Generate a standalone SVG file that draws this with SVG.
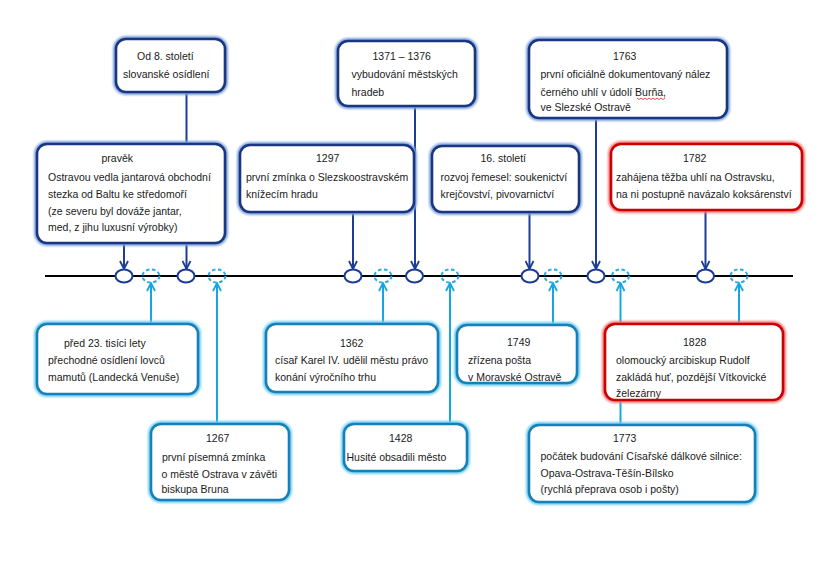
<svg xmlns="http://www.w3.org/2000/svg" width="839" height="565" viewBox="0 0 839 565">
<style>
text{font-family:"Liberation Sans",Arial,sans-serif;font-size:10.5px;fill:#1a1a1a}
.g{fill:none;stroke-width:6;filter:url(#blur)}
.m{fill:#fff;stroke-width:2.6}
.dark .g{stroke:#7fa3dc}.dark .m{stroke:#1b3680}
.light .g{stroke:#6fcdf2}.light .m{stroke:#1880b8}
.red .g{stroke:#f07a7a}.red .m{stroke:#cc0000}
.dk{stroke:#1c3d96;stroke-width:2;fill:none}
.lt{stroke:#15a6e4;stroke-width:2;fill:none}
.tl{stroke:#000;stroke-width:2}
.dc{fill:#fff;stroke:#1c3d96;stroke-width:2}
.lc{fill:none;stroke:#29aae2;stroke-width:2;stroke-dasharray:3.5 2.5}
</style>
<defs>
<filter id="blur" x="-10%" y="-10%" width="120%" height="120%"><feGaussianBlur stdDeviation="1.3"/></filter>
<marker id="ad" viewBox="0 0 10 10" refX="9" refY="5" markerWidth="10" markerHeight="10" markerUnits="userSpaceOnUse" orient="auto"><path d="M1,1 L9,5 L1,9" fill="none" stroke="#1c3d96" stroke-width="1.8"/></marker>
<marker id="al" viewBox="0 0 10 10" refX="9" refY="5" markerWidth="10" markerHeight="10" markerUnits="userSpaceOnUse" orient="auto"><path d="M1,1 L9,5 L1,9" fill="none" stroke="#15a6e4" stroke-width="1.8"/></marker>
</defs>
<rect width="839" height="565" fill="#fff"/>
<g id="connectors">
<line class="dk" x1="186.5" y1="92" x2="186.5" y2="144"/>
<line class="dk" x1="124" y1="243" x2="124" y2="269" marker-end="url(#ad)"/>
<line class="dk" x1="186.5" y1="243" x2="186.5" y2="269" marker-end="url(#ad)"/>
<line class="dk" x1="353" y1="212" x2="353" y2="269" marker-end="url(#ad)"/>
<line class="dk" x1="415" y1="106" x2="415" y2="269" marker-end="url(#ad)"/>
<line class="dk" x1="529.5" y1="212" x2="529.5" y2="269" marker-end="url(#ad)"/>
<line class="dk" x1="596" y1="118" x2="596" y2="269" marker-end="url(#ad)"/>
<line class="dk" x1="705.5" y1="210" x2="705.5" y2="269" marker-end="url(#ad)"/>
<line class="lt" x1="151" y1="324" x2="151" y2="283" marker-end="url(#al)"/>
<line class="lt" x1="217" y1="424" x2="217" y2="283" marker-end="url(#al)"/>
<line class="lt" x1="383" y1="324" x2="383" y2="283" marker-end="url(#al)"/>
<line class="lt" x1="450" y1="424" x2="450" y2="283" marker-end="url(#al)"/>
<line class="lt" x1="553" y1="325" x2="553" y2="283" marker-end="url(#al)"/>
<line class="lt" x1="620.5" y1="425" x2="620.5" y2="283" marker-end="url(#al)"/>
<line class="lt" x1="739" y1="324" x2="739" y2="283" marker-end="url(#al)"/>
</g>
<g id="timeline">
<line class="tl" x1="45" y1="276" x2="793" y2="276"/>
<ellipse class="dc" cx="124" cy="276" rx="8.5" ry="6.5"/>
<ellipse class="dc" cx="186" cy="276" rx="8.5" ry="6.5"/>
<ellipse class="dc" cx="353" cy="276" rx="8.5" ry="6.5"/>
<ellipse class="dc" cx="414.5" cy="276" rx="8.5" ry="6.5"/>
<ellipse class="dc" cx="530" cy="276" rx="8.5" ry="6.5"/>
<ellipse class="dc" cx="596" cy="276" rx="8.5" ry="6.5"/>
<ellipse class="dc" cx="705.5" cy="276" rx="8.5" ry="6.5"/>
<ellipse class="lc" cx="151" cy="276" rx="8.5" ry="6.5"/>
<ellipse class="lc" cx="217" cy="276" rx="8.5" ry="6.5"/>
<ellipse class="lc" cx="383" cy="276" rx="8.5" ry="6.5"/>
<ellipse class="lc" cx="450" cy="276" rx="8.5" ry="6.5"/>
<ellipse class="lc" cx="553" cy="276" rx="8.5" ry="6.5"/>
<ellipse class="lc" cx="620.5" cy="276" rx="8.5" ry="6.5"/>
<ellipse class="lc" cx="739" cy="276" rx="8.5" ry="6.5"/>
</g>
<g id="n-od8" class="dark">
<rect class="g" x="116" y="39" width="109" height="53" rx="10"/>
<rect class="m" x="116" y="39" width="109" height="53" rx="10"/>
<text x="137" y="60">Od 8. století</text>
<text x="123" y="78">slovanské osídlení</text>
</g>
<g id="n-1371" class="dark">
<rect class="g" x="338" y="41" width="137" height="65" rx="10"/>
<rect class="m" x="338" y="41" width="137" height="65" rx="10"/>
<text x="372.5" y="60">1371 – 1376</text>
<text x="351.5" y="78">vybudování  městských</text>
<text x="351.5" y="95.5">hradeb</text>
</g>
<g id="n-1763" class="dark">
<rect class="g" x="529" y="40" width="198" height="78" rx="10"/>
<rect class="m" x="529" y="40" width="198" height="78" rx="10"/>
<text x="613" y="60">1763</text>
<text x="540.5" y="78">první oficiálně dokumentovaný nález</text>
<text x="540.5" y="95.5">černého uhlí v údolí Burňa,</text>
<path d="M637,98 l2,1.5 l2,-1.5 l2,1.5 l2,-1.5 l2,1.5 l2,-1.5 l2,1.5 l2,-1.5 l2,1.5 l2,-1.5 l2,1.5 l2,-1.5 l2,1.5 l2,-1.5" fill="none" stroke="#e02020" stroke-width="0.8"/>
<text x="540.5" y="111">ve Slezské Ostravě</text>
</g>
<g id="n-pravek" class="dark">
<rect class="g" x="37" y="144" width="188" height="99" rx="10"/>
<rect class="m" x="37" y="144" width="188" height="99" rx="10"/>
<text x="101.5" y="162">pravěk</text>
<text x="48" y="180.5">Ostravou vedla jantarová obchodní</text>
<text x="48" y="198">stezka od Baltu ke středomoří</text>
<text x="48" y="215">(ze severu byl dováže jantar,</text>
<text x="48" y="230.5">med, z jihu luxusní výrobky)</text>
</g>
<g id="n-1297" class="dark">
<rect class="g" x="240" y="145" width="174" height="67" rx="10"/>
<rect class="m" x="240" y="145" width="174" height="67" rx="10"/>
<text x="316" y="162">1297</text>
<text x="246" y="180.5">první zmínka o Slezskoostravském</text>
<text x="246" y="198">knížecím hradu</text>
</g>
<g id="n-16stoleti" class="dark">
<rect class="g" x="432" y="146" width="147" height="66" rx="10"/>
<rect class="m" x="432" y="146" width="147" height="66" rx="10"/>
<text x="480.5" y="162">16. století</text>
<text x="440.5" y="180.5">rozvoj řemesel: soukenictví</text>
<text x="440.5" y="198">krejčovství, pivovarnictví</text>
</g>
<g id="n-1782" class="red">
<rect class="g" x="611" y="144" width="191" height="66" rx="10"/>
<rect class="m" x="611" y="144" width="191" height="66" rx="10"/>
<text x="683" y="162">1782</text>
<text x="616" y="180.5">zahájena těžba uhlí na Ostravsku,</text>
<text x="616" y="198">na ni postupně navázalo koksárenství</text>
</g>
<g id="n-pred23" class="light">
<rect class="g" x="37" y="324" width="161" height="70" rx="10"/>
<rect class="m" x="37" y="324" width="161" height="70" rx="10"/>
<text x="64" y="347">před 23. tisíci lety</text>
<text x="48" y="364">přechodné osídlení lovců</text>
<text x="48" y="381">mamutů (Landecká Venuše)</text>
</g>
<g id="n-1362" class="light">
<rect class="g" x="266" y="324" width="172" height="68" rx="10"/>
<rect class="m" x="266" y="324" width="172" height="68" rx="10"/>
<text x="340" y="347">1362</text>
<text x="275" y="364">císař Karel IV. udělil městu právo</text>
<text x="275" y="381">konání výročního  trhu</text>
</g>
<g id="n-1749" class="light">
<rect class="g" x="457" y="325" width="120" height="58" rx="10"/>
<rect class="m" x="457" y="325" width="120" height="58" rx="10"/>
<text x="507" y="345.5">1749</text>
<text x="468" y="364">zřízena pošta</text>
<text x="468" y="381">v Moravské Ostravě</text>
</g>
<g id="n-1828" class="red">
<rect class="g" x="605" y="324" width="178" height="76" rx="10"/>
<rect class="m" x="605" y="324" width="178" height="76" rx="10"/>
<text x="683" y="345.5">1828</text>
<text x="616" y="364">olomoucký arcibiskup Rudolf</text>
<text x="616" y="381">zakládá huť, pozdější Vítkovické</text>
<text x="616" y="397">železárny</text>
</g>
<g id="n-1267" class="light">
<rect class="g" x="151" y="424" width="138" height="76" rx="10"/>
<rect class="m" x="151" y="424" width="138" height="76" rx="10"/>
<text x="206" y="442">1267</text>
<text x="162" y="460.5">první písemná zmínka</text>
<text x="161.5" y="477.5">o městě Ostrava v závěti</text>
<text x="161.5" y="493">biskupa Bruna</text>
</g>
<g id="n-1428" class="light">
<rect class="g" x="344" y="424" width="123" height="47" rx="10"/>
<rect class="m" x="344" y="424" width="123" height="47" rx="10"/>
<text x="389" y="442">1428</text>
<text x="346.5" y="460.5">Husité obsadili město</text>
</g>
<g id="n-1773" class="light">
<rect class="g" x="529" y="425" width="226" height="77" rx="10"/>
<rect class="m" x="529" y="425" width="226" height="77" rx="10"/>
<text x="613" y="442">1773</text>
<text x="540.5" y="460">počátek budování Císařské dálkové silnice:</text>
<text x="540.5" y="476.5">Opava-Ostrava-Těšín-Bílsko</text>
<text x="540.5" y="493">(rychlá přeprava osob i pošty)</text>
</g>
</svg>
